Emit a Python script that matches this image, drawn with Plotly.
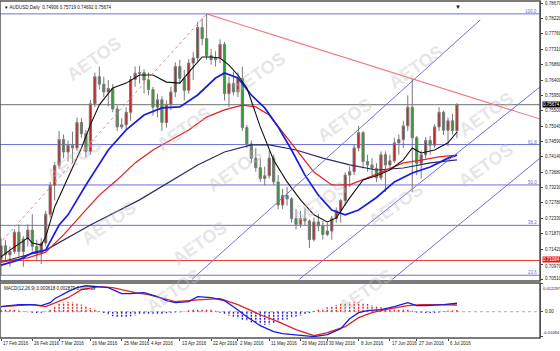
import plotly.graph_objects as go

# ---------------- data ----------------
bars = list(range(103))
opens = [.7112,.7152,.7125,.7135,.7192,.7135,.7172,.7198,.7150,
         .7128,.7160,.7245,.7330,.7388,.7465,.7428,.7448,.7440,.7515,.7482,.7430,.7570,.7650,.7628,.7605,.7615,.7555,.7502,.7508,.7545,.7642,.7660,
         .7662,.7640,.7612,.7560,.7582,.7515,.7568,.7605,.7680,.7645,.7610,.7690,.7705,.7795,.7762,.7712,.7700,.7705,.7745,.7600,.7630,
         .7605,.7645,.7500,.7452,.7410,.7382,.7350,.7358,.7410,.7340,.7272,.7300,.7290,.7232,.7215,.7232,.7225,.7170,.7222,.7210,.7185,.7195,
         .7232,.7255,.7285,.7360,.7370,.7440,.7485,.7400,.7390,.7380,.7352,.7420,.7390,.7402,.7455,.7465,.7505,.7560,.7470,.7395,.7420,.7462,
         .7448,.7502,.7545,.7492,.7520,.74906]
highs = [.7175,.7168,.7150,.7200,.7215,.7180,.7215,.7245,.7170,
         .7175,.7255,.7340,.7398,.7490,.7480,.7462,.7488,.7530,.7528,.7492,.7582,.7662,.7680,.7650,.7640,.7628,.7565,.7528,.7560,.7652,.7680,.7682,
         .7672,.7662,.7620,.7600,.7592,.7580,.7620,.7692,.7700,.7670,.7702,.7722,.7812,.7822,.7835,.7732,.7725,.7760,.7752,.7650,.7665,
         .7662,.7680,.7508,.7462,.7440,.7410,.7385,.7432,.7420,.7360,.7320,.7325,.7295,.7260,.7255,.7262,.7230,.7235,.7245,.7225,.7220,.7240,
         .7265,.7290,.7368,.7385,.7450,.7505,.7490,.7420,.7410,.7395,.7430,.7430,.7420,.7470,.7480,.7520,.7595,.7645,.7475,.7432,.7472,.7475,
         .7510,.7560,.7550,.7530,.7540,.75719]
lows = [.7065,.7108,.7090,.7128,.7120,.7090,.7150,.7135,.7110,
        .7098,.7150,.7235,.7285,.7378,.7410,.7400,.7395,.7432,.7470,.7412,.7420,.7560,.7612,.7590,.7562,.7545,.7490,.7495,.7495,.7520,.7620,.7630,
        .7600,.7595,.7535,.7530,.7490,.7500,.7552,.7590,.7630,.7580,.7600,.7640,.7695,.7742,.7700,.7685,.7680,.7690,.7580,.7560,.7595,
        .7590,.7490,.7440,.7395,.7370,.7340,.7330,.7350,.7330,.7260,.7260,.7270,.7220,.7200,.7205,.7210,.7145,.7165,.7195,.7170,.7180,.7170,
        .7220,.7220,.7270,.7325,.7360,.7430,.7380,.7370,.7360,.7340,.7345,.7310,.7375,.7395,.7420,.7440,.7490,.7310,.7360,.7350,.7410,.7420,
        .7440,.7490,.7478,.7445,.7480,.74692]
closes = [.7152,.7125,.7135,.7192,.7135,.7172,.7198,.7150,.7128,
          .7160,.7245,.7330,.7388,.7465,.7428,.7448,.7440,.7515,.7482,.7430,.7570,.7650,.7628,.7605,.7615,.7555,.7502,.7508,.7545,.7642,.7660,.7662,
          .7640,.7612,.7560,.7582,.7515,.7568,.7605,.7680,.7645,.7610,.7690,.7705,.7795,.7762,.7712,.7700,.7705,.7745,.7600,.7630,.7605,
          .7645,.7500,.7452,.7410,.7382,.7350,.7358,.7410,.7340,.7272,.7300,.7290,.7232,.7215,.7232,.7225,.7170,.7222,.7210,.7185,.7195,.7232,
          .7255,.7285,.7360,.7370,.7440,.7485,.7400,.7390,.7380,.7352,.7420,.7390,.7402,.7455,.7465,.7505,.7560,.7470,.7395,.7420,.7462,.7448,
          .7502,.7545,.7492,.7520,.74906,.75674]

tick_bars = [0, 7, 13, 20, 27, 33, 40, 47, 53, 60, 67, 73, 80, 87, 93, 100]
tick_labels = ["17 Feb 2016", "26 Feb 2016", "7 Mar 2016", "16 Mar 2016", "25 Mar 2016", "4 Apr 2016",
               "13 Apr 2016", "22 Apr 2016", "2 May 2016", "11 May 2016", "20 May 2016", "30 May 2016",
               "8 Jun 2016", "17 Jun 2016", "27 Jun 2016", "6 Jul 2016"]
price_ticks = [0.78670, 0.78220, 0.77760, 0.77310, 0.76860, 0.76400, 0.75950, 0.75500, 0.75040, 0.74590,
               0.74140, 0.73680, 0.73230, 0.72780, 0.72330, 0.71870, 0.71420, 0.70970, 0.70510]

# moving averages (bar index, value)
ma_fast_x = [0,2,6,7,9,10,12,15,18,20,22,25,28,31,34,37,40,43,45,47,49,51,53,55,58,61,64,67,70,73,75,78,81,84,87,90,92,94,97,100,102]
ma_fast_y = [.7119,.7139,.7175,.7160,.7154,.7178,.7266,.7351,.7440,.7508,.7567,.7617,.7631,.7655,.7655,.7634,.7631,.7678,.7708,.7708,.7705,.7684,.7655,.7617,.7502,.7404,.7340,.7287,.7243,.7222,.7234,.7293,.7346,.7358,.7375,.7405,.7440,.7425,.7434,.7455,.7487]
ma_mid_x = [0,4,7,10,13,15,19,24,28,32,36,40,44,48,50,53,56,59,62,65,68,71,74,77,80,84,88,92,96,100,102]
ma_mid_y = [.7095,.7110,.7131,.7139,.7213,.7243,.7331,.7434,.7493,.7537,.7558,.7561,.7596,.7646,.7661,.7646,.7596,.7558,.7502,.7434,.7360,.7301,.7257,.7243,.7257,.7294,.7340,.7366,.7384,.7410,.7419]
ma_slow_x = [0,6,10,14,18,22,26,30,34,38,42,46,50,54,57,60,63,66,70,74,78,82,86,90,94,98,102]
ma_slow_y = [.7104,.7116,.7133,.7184,.7243,.7301,.7346,.7396,.7434,.7464,.7493,.7531,.7552,.7566,.7561,.7537,.7487,.7434,.7369,.7331,.7331,.7352,.7375,.7396,.7404,.7414,.7419]
ma_long_x = [0,10,20,31,44,50,56,60,66,72,78,84,90,96,102]
ma_long_y = [.7104,.7139,.7213,.7287,.7390,.7428,.7449,.7449,.7434,.7410,.7390,.7375,.7381,.7396,.7405]

# MACD
macd_x = [0,3,4,7,9,11,12,15,17,19,22,24,27,29,32,35,37,39,42,44,47,50,52,55,58,61,63,66,70,73,76,78,80,82,85,88,91,93,95,99,102]
macd_y = [.00214,.00257,.0030,.0030,.00257,.00386,.00557,.00857,.01028,.01114,.01071,.01028,.00771,.00771,.00814,.00643,.00471,.00386,.00429,.00643,.0060,.00471,.00214,-.00214,-.0060,-.00857,-.00943,-.00986,-.01071,-.00986,-.00729,-.0030,-.00043,.00043,.00086,.00214,.00386,.00257,.00257,.0030,.003618]
signal_x = [0,7,10,15,18,22,25,30,33,39,44,49,53,58,62,66,70,73,77,80,83,86,91,94,97,102]
signal_y = [.00214,.0030,.00214,.0060,.00943,.01071,.01028,.00814,.00728,.00428,.0051,.00557,.0030,-.0013,-.00428,-.00771,-.01028,-.0090,-.00643,-.00257,-.00043,.00086,.00257,.0030,.0030,.002879]
osma = [0.0008,0.0010,0.0010,0.0008,0.0005,
        0.0002,-0.0002,
        -0.0005,-0.0006,-0.0004,-0.0001,
        0.0010,0.0022,0.0033,0.0040,0.0043,0.0041,0.0037,0.0031,0.0024,0.0016,0.0009,0.0003,
        -0.0006,-0.0014,-0.0020,-0.0024,-0.0026,-0.0023,-0.0019,-0.0015,-0.0012,
        -0.0010,-0.0011,-0.0012,-0.0011,-0.0009,-0.0007,-0.0005,-0.0003,-0.0002,-0.0001,
        0.0006,0.0010,0.0013,0.0013,0.0012,0.0009,0.0004,
        -0.0004,-0.0010,-0.0016,-0.0022,-0.0028,-0.0034,-0.0040,-0.0045,-0.0050,-0.0054,-0.0056,-0.0054,-0.0050,-0.0045,
        -0.0039,-0.0033,-0.0027,-0.0021,-0.0016,-0.0011,-0.0006,
        0.0004,0.0009,0.0014,0.0019,0.0024,0.0029,0.0034,0.0038,0.0041,0.0043,0.0042,0.0038,
        0.0033,0.0028,0.0023,0.0019,0.0016,0.0013,0.0012,0.0011,0.0010,0.0008,0.0004,
        -0.0003,-0.0005,-0.0006,-0.0006,-0.0005,-0.0003,
        0.0003,0.0005,0.0006,0.000739]
macd_ticks = [0.012297, 0.0, -0.01084]
macd_tick_text = ["0.012297", "0.00", "-0.01084"]

# drawn objects
fib_prices = [0.7835, 0.7450, 0.7331, 0.7212, 0.7065]
fib_labels = ["100.0", "61.8", "50.0", "38.2", "23.6"]
bid_price = 0.75674
hline_price = 0.71084
resist_x = [46, 120.6]
resist_y = [0.7835, 0.7525]
fib_diag_x = [-23, 46]
fib_diag_y = [0.6827, 0.7835]
chan1_x = [42.7, 107.2]; chan1_y = [0.70526, 0.78169]
chan2_x = [66.7, 120.6]; chan2_y = [0.70526, 0.76200]
chan3_x = [87.5, 120.6]; chan3_y = [0.70526, 0.74100]

X_RANGE = [-0.224, 120.58]
Y_RANGE = [0.70480, 0.78729]
M_RANGE = [-0.01127, 0.012297]

BULL = "#c62020"
BEAR = "#2f9e2f"
FIB = "#6f6fd8"
FONT = "Liberation Sans"

fig = go.Figure()

fig.add_trace(go.Candlestick(
    x=bars, open=opens, high=highs, low=lows, close=closes,
    increasing=dict(fillcolor=BULL, line=dict(color="#7a7a7a", width=1)),
    decreasing=dict(fillcolor=BEAR, line=dict(color="#7a7a7a", width=1)),
    whiskerwidth=0, xaxis="x", yaxis="y", showlegend=False, hoverinfo="skip"))

def line(x, y, color, width=1.2, dash="solid", xa="x", ya="y"):
    fig.add_trace(go.Scatter(x=x, y=y, mode="lines", line=dict(color=color, width=width, dash=dash),
                             xaxis=xa, yaxis=ya, showlegend=False, hoverinfo="skip"))

line(ma_long_x, ma_long_y, "#2b2b66", 1.2)
line(ma_slow_x, ma_slow_y, "#e02424", 1.3)
line(ma_mid_x, ma_mid_y, "#1a1ae0", 1.7)
line(ma_fast_x, ma_fast_y, "#111111", 1.1)

line(resist_x, resist_y, "#ef7a7a", 1.1)
line(fib_diag_x, fib_diag_y, "#e08a8a", 1, "dot")
line(chan1_x, chan1_y, FIB, 1)
line(chan2_x, chan2_y, FIB, 1)
line(chan3_x, chan3_y, FIB, 1)

def hist(sign, color):
    hx, hy = [], []
    for b, v in zip(bars, osma):
        if (v > 0) == sign and v != 0:
            hx += [b, b, None]
            hy += [0, v, None]
    fig.add_trace(go.Scatter(x=hx, y=hy, mode="lines", line=dict(color=color, width=1.4, dash="2px,1px"),
                             xaxis="x2", yaxis="y2", showlegend=False, hoverinfo="skip"))
hist(True, "#e02424")
hist(False, "#2020d0")
line(signal_x, signal_y, "#e02424", 1.3, xa="x2", ya="y2")
line(macd_x, macd_y, "#1a1ae0", 1.3, xa="x2", ya="y2")

shapes = []
for p in fib_prices:
    shapes.append(dict(type="line", xref="x", yref="y", x0=X_RANGE[0], x1=X_RANGE[1], y0=p, y1=p,
                       line=dict(color=FIB, width=1), layer="below"))
shapes.append(dict(type="line", xref="x", yref="y", x0=X_RANGE[0], x1=X_RANGE[1], y0=bid_price, y1=bid_price,
                   line=dict(color="#8a8a8a", width=1.2), layer="below"))
shapes.append(dict(type="line", xref="x", yref="y", x0=X_RANGE[0], x1=X_RANGE[1], y0=hline_price, y1=hline_price,
                   line=dict(color="#e84040", width=1), layer="below"))
shapes.append(dict(type="line", xref="x2", yref="y2", x0=X_RANGE[0], x1=X_RANGE[1], y0=0, y1=0,
                   line=dict(color="#b0b0b0", width=1, dash="dot"), layer="below"))
shapes.append(dict(type="rect", xref="paper", yref="paper", x0=0, x1=1, y0=0.1691, y1=1,
                   line=dict(color="#505050", width=1.5)))
shapes.append(dict(type="rect", xref="paper", yref="paper", x0=0, x1=1, y0=0, y1=0.1632,
                   line=dict(color="#505050", width=1.5)))

ann = []
wm = [(40, 160), (150, 100), (258, 45), (450, 38), (345, 120), (520, 85), (235, 170), (75, 252),
      (430, 205), (320, 232), (200, 272), (520, 165), (140, 320), (400, 320), (60, 30)]
for (px, py) in wm:
    ann.append(dict(text="AETOS", x=px / 540, y=1 - (py - 1) / 337, xref="paper", yref="paper",
                    showarrow=False, textangle=-35,
                    font=dict(family=FONT, size=18, color="rgba(190,190,190,0.4)", weight="bold")))

small = dict(family=FONT, size=4.5, color="#222")
tiny = dict(family=FONT, size=4.1, color="#222")
for b, t in zip(tick_bars, tick_labels):
    ann.append(dict(text=t, x=b, y=-0.004, xref="x2", yref="paper", xanchor="left", yanchor="top",
                    showarrow=False, font=small))
for p, t in zip(fib_prices, fib_labels):
    ann.append(dict(text=t, x=120.3, y=p, xref="x", yref="y", xanchor="right", yanchor="bottom",
                    showarrow=False, yshift=-2, font=dict(family=FONT, size=4.5, color=FIB)))
for p in price_ticks:
    ys = -2 if abs(p - 0.70970) < 1e-6 else 0
    ys = 1 if abs(p - 0.70510) < 1e-6 else ys
    ann.append(dict(text="%.5f" % p, x=1.006, y=p, xref="paper", yref="y", xanchor="left",
                    showarrow=False, yshift=ys, font=small))
ann.append(dict(text="%.5f" % bid_price, x=1.003, y=bid_price, xref="paper", yref="y", xanchor="left",
                showarrow=False, bgcolor="#000000", borderpad=0,
                font=dict(family=FONT, size=4.5, color="#ffffff")))
ann.append(dict(text="%.5f" % hline_price, x=1.003, y=hline_price, xref="paper", yref="y", xanchor="left",
                showarrow=False, bgcolor="#e81818", borderpad=0, yshift=1,
                font=dict(family=FONT, size=4.5, color="#ffffff")))
ann.append(dict(text=macd_tick_text[0], x=1.002, y=M_RANGE[1], xref="paper", yref="y2", xanchor="left",
                yanchor="top", yshift=-1, showarrow=False, font=tiny))
ann.append(dict(text=macd_tick_text[1], x=1.006, y=macd_ticks[1], xref="paper", yref="y2", xanchor="left",
                showarrow=False, font=small))
ann.append(dict(text=macd_tick_text[2], x=1.002, y=M_RANGE[0], xref="paper", yref="y2", xanchor="left",
                yanchor="bottom", yshift=1, showarrow=False, font=tiny))

ann.append(dict(text="\u25bc AUDUSD,Daily  0.74906 0.75719 0.74692 0.75674", x=0.004, y=0.993, xref="paper",
                yref="paper", xanchor="left", yanchor="top", showarrow=False,
                font=dict(family=FONT, size=4.5, color="#111")))
ann.append(dict(text="MACD(12,26,9) 0.003618 0.002879 0.000739", x=0.004, y=0.160, xref="paper",
                yref="paper", xanchor="left", yanchor="top", showarrow=False,
                font=dict(family=FONT, size=4.5, color="#111")))
ann.append(dict(text="\u25bc", x=463 / 540, y=0.999, xref="paper", yref="paper", yanchor="top",
                showarrow=False, font=dict(size=6, color="#111")))

fig.update_layout(
    width=560, height=351, margin=dict(l=0, r=20, t=1, b=13),
    paper_bgcolor="#ffffff", plot_bgcolor="#ffffff",
    shapes=shapes, annotations=ann, showlegend=False,
    xaxis=dict(domain=[0, 1], range=X_RANGE, anchor="y", showticklabels=False, showgrid=False,
               zeroline=False, rangeslider=dict(visible=False), fixedrange=True),
    yaxis=dict(domain=[0.1691, 1], range=Y_RANGE, side="right", tickvals=price_ticks,
               showticklabels=False, showgrid=False, zeroline=False, ticks="outside", ticklen=2,
               tickcolor="#444", showline=True, linecolor="#505050", linewidth=1),
    xaxis2=dict(domain=[0, 1], range=X_RANGE, anchor="y2", tickvals=tick_bars, ticks="outside", ticklen=2,
                tickcolor="#444", showticklabels=False, showgrid=False, zeroline=False),
    yaxis2=dict(domain=[0, 0.1632], range=M_RANGE, side="right", tickvals=macd_ticks,
                showticklabels=False, showgrid=False, zeroline=False, ticks="outside", ticklen=2,
                tickcolor="#444", showline=True, linecolor="#505050", linewidth=1),
)

fig.write_html("out.html")
